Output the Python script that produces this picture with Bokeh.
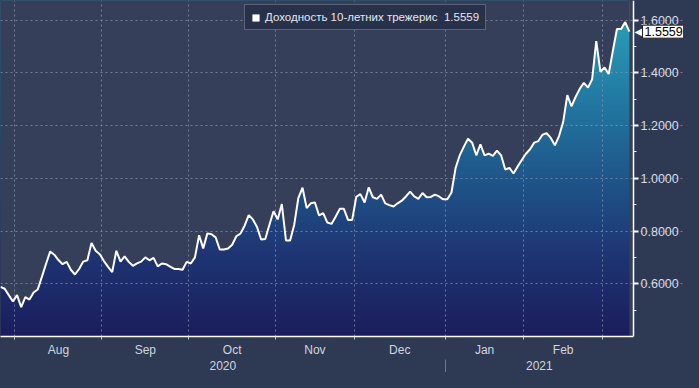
import numpy as np
import pandas as pd
from bokeh.plotting import figure
from bokeh.models import (LinearAxis, FixedTicker, Grid, Range1d, Legend, LegendItem,
                          Label, PrintfTickFormatter, GlobalInlineStyleSheet, BoxAnnotation)
from bokeh.embed import file_html
from bokeh.resources import INLINE

# ---------------- data ----------------
series_name = "Доходность 10-летних трежерис"
first_day = "2020-07-28"
last_day = "2021-03-09"
bond_holidays = ["2020-09-07", "2020-10-12", "2020-11-11", "2020-11-26",
                 "2020-12-25", "2021-01-01", "2021-01-18", "2021-02-15"]
yields = [
    0.588, 0.581, 0.557, 0.533, 0.557, 0.511, 0.549, 0.540, 0.567, 0.578,
    0.626, 0.675, 0.722, 0.710, 0.690, 0.674, 0.683, 0.653, 0.635, 0.656,
    0.684, 0.689, 0.755, 0.725, 0.712, 0.686, 0.664, 0.644, 0.725, 0.684,
    0.704, 0.683, 0.668, 0.677, 0.684, 0.700, 0.689, 0.698, 0.666, 0.677,
    0.674, 0.665, 0.656, 0.656, 0.653, 0.683, 0.677, 0.700, 0.784, 0.734,
    0.791, 0.788, 0.776, 0.730, 0.730, 0.734, 0.748, 0.780, 0.790, 0.820,
    0.860, 0.844, 0.815, 0.768, 0.770, 0.824, 0.875, 0.844, 0.902, 0.764,
    0.764, 0.824, 0.926, 0.964, 0.887, 0.905, 0.908, 0.859, 0.868, 0.832,
    0.827, 0.854, 0.884, 0.884, 0.842, 0.842, 0.930, 0.940, 0.908, 0.965,
    0.928, 0.922, 0.938, 0.905, 0.898, 0.893, 0.905, 0.915, 0.931, 0.949,
    0.931, 0.922, 0.944, 0.928, 0.929, 0.938, 0.931, 0.920, 0.920, 0.946,
    1.039, 1.087, 1.120, 1.150, 1.135, 1.087, 1.129, 1.087, 1.093, 1.085,
    1.105, 1.087, 1.033, 1.039, 1.018, 1.045, 1.069, 1.093, 1.110, 1.135,
    1.141, 1.165, 1.171, 1.153, 1.125, 1.160, 1.213, 1.315, 1.273, 1.308,
    1.339, 1.362, 1.344, 1.375, 1.520, 1.404, 1.420, 1.395, 1.482, 1.566,
    1.566, 1.592, 1.5559,
]
month_labels = ["Aug", "Sep", "Oct", "Nov", "Dec", "Jan", "Feb"]
year_labels = ["2020", "2021"]
y_ticks = [0.6, 0.8, 1.0, 1.2, 1.4, 1.6]
y_minor = [0.5, 0.7, 0.9, 1.1, 1.3, 1.5]

# ---------------- derived positions ----------------
dates = pd.bdate_range(first_day, last_day, freq="C", holidays=bond_holidays)
n = min(len(dates), len(yields))
dates = dates[:n]
vals = np.array(yields[:n], dtype=float)
idx = np.arange(n, dtype=float)

W, H = 683, 372
AXIS_PX = 633                     # pixel position of the value axis
x_start, x_axis = 0.0, float(n)
x_end = x_axis * W / AXIS_PX      # frame spans whole width; axis drawn at x_axis
y_start, y_end = 0.4, 1.674

bounds = [i - 0.5 for i in range(1, n) if dates[i].month != dates[i - 1].month]
mids = [(bounds[k] + bounds[k + 1]) / 2 for k in range(len(bounds) - 1)]
month_over = {float(m): lab for m, lab in zip(mids, month_labels)}
year_b = [i - 0.5 for i in range(1, n) if dates[i].year != dates[i - 1].year]
yspans = [x_start] + year_b + [x_axis]
year_mids = [(yspans[k] + yspans[k + 1]) / 2 for k in range(len(yspans) - 1)]
year_over = {float(m): lab for m, lab in zip(year_mids, year_labels)}

BG = "#353f5a"
BORDER = "#2e3a54"
FONT = "Liberation Sans"
GRID = "#8a94ac"

p = figure(width=W, height=H, output_backend="svg", toolbar_location=None,
           x_axis_location=None, y_axis_location=None,
           x_range=Range1d(x_start, x_end), y_range=Range1d(y_start, y_end),
           min_border_left=0, min_border_top=0, min_border_right=0, min_border_bottom=34,
           background_fill_color=BG, border_fill_color=BORDER, outline_line_color=None)
p.stylesheets = [GlobalInlineStyleSheet(css="body{background:%s;}" % BORDER)]
for g in list(p.grid):
    g.visible = False

# area right of the value axis has the border colour
p.add_layout(BoxAnnotation(left=x_axis, fill_color=BORDER, fill_alpha=1,
                           line_color=None, level="image"))

# gradient fill under the line: vertical colour image masked above the line
ny = 300
ys = np.linspace(y_start, y_end, ny)
stop_v = [0.40, 0.70, 1.00, 1.30, 1.60]
stop_c = [(27, 30, 92), (30, 52, 115), (31, 86, 138), (34, 122, 163), (42, 157, 184)]
img = np.empty((ny, 1), dtype=np.uint32)
view = img.view(dtype=np.uint8).reshape((ny, 1, 4))
for ch in range(3):
    view[:, 0, ch] = np.interp(ys, stop_v, [c[ch] for c in stop_c]).astype(np.uint8)
view[:, 0, 3] = 255
p.image_rgba(image=[img], x=idx[0], y=y_start, dw=idx[-1] - idx[0], dh=y_end - y_start,
             level="image")
p.varea(x=idx, y1=vals, y2=np.full(n, y_end), fill_color=BG, level="image")

# grids
xg = Grid(dimension=0, ticker=FixedTicker(ticks=bounds), grid_line_color=GRID,
          grid_line_dash="2 3", grid_line_alpha=0.75, grid_line_width=1)
yg = Grid(dimension=1, ticker=FixedTicker(ticks=y_ticks), grid_line_color=GRID,
          grid_line_dash="2 3", grid_line_alpha=0.75, grid_line_width=1,
          bounds=(x_start, x_axis))
p.add_layout(xg)
p.add_layout(yg)

# line
p.line(idx, vals, line_color="white", line_width=2)

# value axis, drawn at a fixed position inside the frame
yax = LinearAxis(ticker=FixedTicker(ticks=y_ticks, minor_ticks=y_minor),
                 formatter=PrintfTickFormatter(format="%.4f"), fixed_location=x_axis,
                 axis_line_color="white", axis_line_width=1.5,
                 major_tick_line_color="white", major_tick_line_width=2,
                 major_tick_in=0, major_tick_out=5,
                 minor_tick_line_color="white", minor_tick_in=0, minor_tick_out=3,
                 major_label_text_color="#d8dce4", major_label_text_font=FONT,
                 major_label_text_font_size="12.5px", major_label_standoff=2)
p.add_layout(yax, "right")

xax = LinearAxis(ticker=FixedTicker(ticks=mids, minor_ticks=bounds),
                 major_label_overrides=month_over, bounds=(x_start, x_axis),
                 axis_line_color="white", axis_line_width=1.5,
                 major_tick_in=0, major_tick_out=0, major_tick_line_color=None,
                 minor_tick_line_color="#c8cdd8", minor_tick_in=0, minor_tick_out=3,
                 major_label_text_color="#d0d5df", major_label_text_font=FONT,
                 major_label_text_font_size="12px", major_label_standoff=3)
p.add_layout(xax, "below")

yrax = LinearAxis(ticker=FixedTicker(ticks=year_mids, minor_ticks=year_b),
                  major_label_overrides=year_over,
                  axis_line_color=None,
                  major_tick_in=0, major_tick_out=0, major_tick_line_color=None,
                  minor_tick_line_color="#6f788c", minor_tick_in=0, minor_tick_out=16,
                  major_label_text_color="#d0d5df", major_label_text_font=FONT,
                  major_label_text_font_size="12px", major_label_standoff=-15)
p.add_layout(yrax, "below")

# legend (its swatch is a zero-size quad sitting on the last data point)
sq = p.quad(left=[idx[-1]], right=[idx[-1]], top=[vals[-1]], bottom=[vals[-1]],
            fill_color="white", line_color="white", line_alpha=0, line_width=0)
legend = Legend(items=[LegendItem(label=f"{series_name}\u00a0 {vals[-1]:.4f}", renderers=[sq])],
                location=(244, 306), orientation="horizontal",
                label_text_font=FONT, label_text_font_size="11.5px", label_text_color="#e4e7ee",
                background_fill_color="#27314a", background_fill_alpha=1,
                border_line_color="#8d96aa", border_line_width=1,
                padding=6, spacing=0, margin=0, glyph_width=9, glyph_height=9,
                label_height=12, label_standoff=5, label_text_baseline="middle")
p.add_layout(legend, "center")

# last value tag on the value axis
p.add_layout(Label(x=x_axis, y=vals[-1], x_offset=1, text="\u25c0", text_color="white",
                   text_font="DejaVu Sans", text_font_size="10px",
                   text_align="left", text_baseline="middle"))
p.add_layout(Label(x=x_axis, y=vals[-1], x_offset=9, text=f"{vals[-1]:.4f}",
                   text_color="black", text_font=FONT, text_font_size="12.5px",
                   text_align="left", text_baseline="middle", padding=2,
                   background_fill_color="white", border_line_color="#222222",
                   border_line_width=1))

open("out.html", "w").write(file_html(p, INLINE))
